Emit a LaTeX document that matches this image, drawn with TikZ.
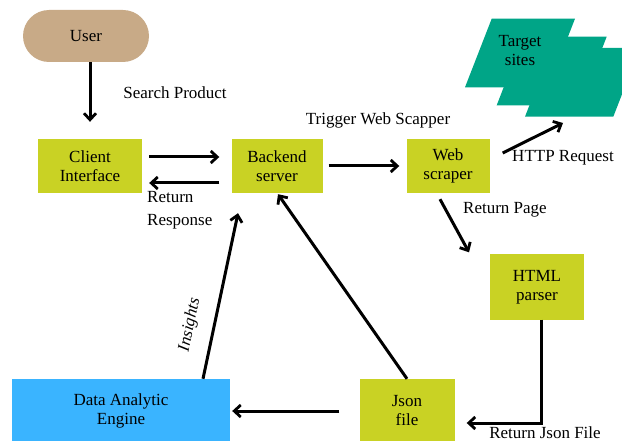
\documentclass[tikz,border=0pt]{standalone}
\usepackage{fontspec}
\setmainfont{Liberation Serif}
\usetikzlibrary{arrows.meta,calc}
\definecolor{boxc}{RGB}{201,210,36}
\definecolor{userc}{RGB}{200,170,135}
\definecolor{bluec}{RGB}{58,180,255}
\definecolor{tealc}{RGB}{0,165,135}
\begin{document}
\begin{tikzpicture}[x=1pt,y=-1pt,
  every node/.style={font=\fontsize{17}{19}\selectfont, text=black},
  box/.style={rectangle, fill=boxc, align=center, inner sep=0pt},
  arr/.style={line width=3pt, -{Straight Barb[length=6.5pt,width=12pt,line width=2.8pt]}},
  lbl/.style={inner sep=0pt}]
\useasboundingbox (0,0) rectangle (622,441);
% target sites
\begin{scope}
\clip (0,0) rectangle (622,441);
\fill[tealc] (551.7,48) -- (640,48) -- (613.3,116.7) -- (525,116.7) -- cycle;
\fill[tealc] (523.3,36.7) -- (606.7,36.7) -- (580,105.3) -- (496.7,105.3) -- cycle;
\fill[tealc] (491.7,18.7) -- (575,18.7) -- (548.3,87.3) -- (465,87.3) -- cycle;
\end{scope}
\node[lbl, align=center] (target) at (520,51) {Target\\sites};
\coordinate (tgt) at (563,123);

\node[rectangle, rounded corners=26pt, fill=userc, minimum width=126pt, minimum height=52pt] (user) at (86,36) {User};
\node[box, minimum width=104pt, minimum height=54pt] (client) at (90,166) {Client\\Interface};
\node[box, minimum width=91pt, minimum height=54pt] (backend) at (277,166) {Backend\\server};
\node[box, minimum width=83pt, minimum height=54pt] (scraper) at (448,166) {Web\\scraper};
\node[box, minimum width=94pt, minimum height=65pt] (html) at (537,287) {HTML\\parser};
\node[box, minimum width=95pt, minimum height=64pt] (json) at (407,411) {Json\\file};
\node[rectangle, fill=bluec, align=center, minimum width=218pt, minimum height=64pt] (dae) at (121,411) {Data Analytic\\Engine};

\draw[arr] (user.south -| client.north) -- ($(client.north)+(0,-17)$);
\draw[arr] ($(client.east)+(7,-9)$) -- ($(backend.west)+(-12,-9)$);
\draw[arr] ($(backend.west)+(-12,17)$) -- ($(client.east)+(7,17)$);
\draw[arr] ($(backend.east)+(6,0)$) -- ($(scraper.west)+(-7,0)$);
\draw[arr] ($(scraper.east)+(13,-13)$) -- (tgt);
\draw[arr] ($(scraper.south)+(-8,6)$) -- ($(html.north)+(-68,-2)$);
\draw[arr] ($(html.south)+(4,0)$) |- ($(json.east)+(12,12)$);
\draw[arr] ($(json.west)+(-20,0)$) -- ($(dae.east)+(2,0)$);
\draw[arr] ($(dae.north)+(82,0)$) -- ($(backend.south)+(-39,20)$);
\draw[arr] (json.north) -- ($(backend.south)+(1,1)$);

\node[lbl] (lsearch) at (175,93) {Search Product};
\node[lbl, anchor=west, align=left, font=\fontsize{17}{23}\selectfont] (lreturn) at (147,210) {Return\\Response};
\node[lbl] (ltrigger) at (378,120) {Trigger Web Scapper};
\node[lbl] (lhttp) at (563,158) {HTTP Request};
\node[lbl] (lpage) at (505,210) {Return Page};
\node[lbl] (ljson) at (545,433) {Return Json File};
\node[lbl, rotate=78, font=\fontsize{17}{19}\selectfont\itshape] (lins) at (190,325) {Insights};
\end{tikzpicture}
\end{document}
